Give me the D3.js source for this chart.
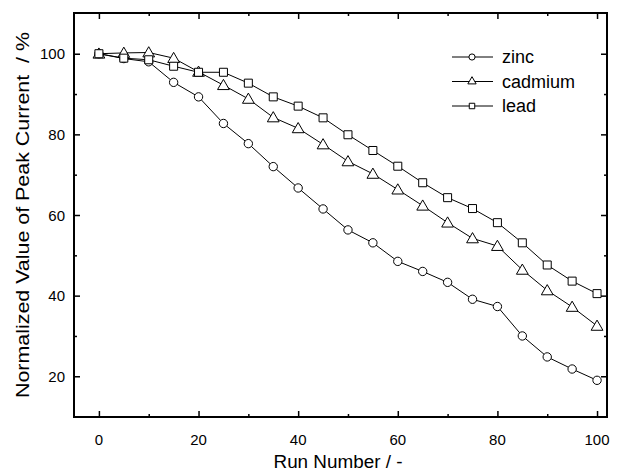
<!DOCTYPE html>
<html>
<head>
<meta charset="utf-8">
<script src="https://cdn.jsdelivr.net/npm/d3@7"></script>
<style>
  body { margin: 0; background: #fff; }
  text { font-family: "Liberation Sans", Arial, sans-serif; fill: #000; }
</style>
</head>
<body>
<div id="chart"></div>
<script>
// DATA
var runs = [0, 5, 10, 15, 20, 25, 30, 35, 40, 45, 50, 55, 60, 65, 70, 75, 80, 85, 90, 95, 100]
var zinc = [100, 98.8, 98, 92.9, 89.3, 82.7, 77.7, 72, 66.7, 61.5, 56.3, 53.1, 48.5, 46, 43.3, 39.1, 37.3, 30, 24.8, 21.8, 19]
var cadmium = [100, 100.2, 100.3, 98.9, 95.5, 92.2, 88.8, 84.2, 81.5, 77.5, 73.3, 70.2, 66.3, 62.3, 58.1, 54.2, 52.3, 46.4, 41.3, 37.2, 32.5]
var lead = [100, 98.9, 98.5, 96.9, 95.4, 95.4, 92.7, 89.3, 87, 84.1, 79.9, 76, 72.1, 68, 64.3, 61.6, 58.1, 53.1, 47.6, 43.6, 40.5]
var seriesNames = ["zinc", "cadmium", "lead"]
var xTicks = [0, 20, 40, 60, 80, 100]
var yTicks = [20, 40, 60, 80, 100]

// DIMENSIONS
var svgWidth = 619
var svgHeight = 472
var margin = { top: 13, left: 74, right: 12, bottom: 55 }
var width = svgWidth - margin.left - margin.right
var height = svgHeight - margin.top - margin.bottom

var svg = d3.select("#chart").append("svg")
    .attr("width", svgWidth)
    .attr("height", svgHeight)

var g = svg.append("g")
    .attr("transform", `translate(${margin.left},${margin.top})`)

var x = d3.scaleLinear().domain([-5, 102]).range([0, width])
var y = d3.scaleLinear().domain([9.9, 110.1]).range([height, 0])

// ticks, all pointing inward
var xMinor = d3.range(10, 100, 20)
var yMinor = d3.range(30, 110, 20)

function ticks(axis, vals, size) {
    return axis.tickValues(vals).tickSize(size).tickFormat("")
}

g.append("g").attr("class", "ax").call(ticks(d3.axisTop(x), xTicks, 6)).attr("transform", `translate(0,${height})`)
g.append("g").attr("class", "ax").call(ticks(d3.axisTop(x), xMinor, 3)).attr("transform", `translate(0,${height})`)
g.append("g").attr("class", "ax").call(ticks(d3.axisBottom(x), xTicks, 6))
g.append("g").attr("class", "ax").call(ticks(d3.axisBottom(x), xMinor, 3))
g.append("g").attr("class", "ax").call(ticks(d3.axisRight(y), yTicks, 6))
g.append("g").attr("class", "ax").call(ticks(d3.axisRight(y), yMinor, 3))
g.append("g").attr("class", "ax").call(ticks(d3.axisLeft(y), yTicks, 6)).attr("transform", `translate(${width},0)`)
g.append("g").attr("class", "ax").call(ticks(d3.axisLeft(y), yMinor, 3)).attr("transform", `translate(${width},0)`)

g.selectAll(".ax .domain").remove()
g.selectAll(".ax line").attr("stroke", "#000").attr("stroke-width", 1.5)

g.append("rect")
    .attr("width", width)
    .attr("height", height)
    .attr("fill", "none")
    .attr("stroke", "#000")
    .attr("stroke-width", 2)

// tick labels
g.selectAll("text.xl")
    .data(xTicks)
    .enter()
    .append("text")
    .attr("x", d => x(d))
    .attr("y", height + 28)
    .attr("text-anchor", "middle")
    .style("font-size", "15px")
    .text(d => d)

g.selectAll("text.yl")
    .data(yTicks)
    .enter()
    .append("text")
    .attr("x", -9)
    .attr("y", d => y(d) + 5.5)
    .attr("text-anchor", "end")
    .style("font-size", "15px")
    .text(d => d)

// axis titles
svg.append("text")
    .attr("x", 338)
    .attr("y", 468)
    .attr("text-anchor", "middle")
    .style("font-size", "18px")
    .attr("textLength", 129)
    .attr("lengthAdjust", "spacingAndGlyphs")
    .text("Run Number / -")

svg.append("text")
    .attr("transform", `translate(29,${215}) rotate(-90)`)
    .attr("text-anchor", "middle")
    .style("font-size", "18px")
    .attr("textLength", 366)
    .attr("lengthAdjust", "spacingAndGlyphs")
    .text("Normalized Value of Peak Current\u00a0\u00a0/ %")

// series
var allSeries = [zinc, cadmium, lead]
var symbols = [d3.symbolCircle, d3.symbolTriangle, d3.symbolSquare]
var symSizes = [55, 60, 64]

var line = d3.line()
    .x((d, i) => x(runs[i]))
    .y(d => y(d))

allSeries.forEach((vals, s) => {
    g.append("path")
        .datum(vals)
        .attr("d", line)
        .attr("fill", "none")
        .attr("stroke", "#000")
        .attr("stroke-width", 1)

    g.selectAll("path.m" + s)
        .data(vals)
        .enter()
        .append("path")
        .attr("class", "m" + s)
        .attr("d", d3.symbol().type(symbols[s]).size(symSizes[s]))
        .attr("transform", (d, i) => `translate(${x(runs[i])},${y(d) + (s == 1 ? 1 : 0)})`)
        .attr("fill", "#fff")
        .attr("stroke", "#000")
        .attr("stroke-width", 1)
})

// legend
var legend = svg.append("g")
seriesNames.forEach((name, s) => {
    var ly = 57 + s * 24.5
    legend.append("line")
        .attr("x1", 452).attr("x2", 493)
        .attr("y1", ly).attr("y2", ly)
        .attr("stroke", "#000")
    legend.append("path")
        .attr("d", d3.symbol().type(symbols[s]).size(30))
        .attr("transform", `translate(472,${ly})`)
        .attr("fill", "#fff")
        .attr("stroke", "#000")
    legend.append("text")
        .attr("x", 502)
        .attr("y", ly + 6)
        .style("font-size", "18px")
        .text(name)
})
</script>
</body>
</html>
